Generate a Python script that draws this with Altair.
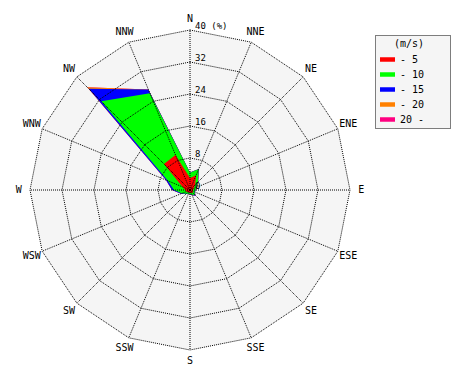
import altair as alt
import pandas as pd
import numpy as np

# ---- data ----
directions = ["N", "NNE", "NE", "ENE", "E", "ESE", "SE", "SSE",
              "S", "SSW", "SW", "WSW", "W", "WNW", "NW", "NNW"]
classes = ["- 5", "- 10", "- 15", "- 20", "20 -"]
class_colors = ["#ff0000", "#00ff00", "#0000ff", "#ff8000", "#ff0080"]

# frequency (%) of each speed class per direction
freq_0_5 = [3.0, 4.0, 1.8, 1.0, 0.8, 0.8, 1.0, 0.8, 0.7, 0.7, 0.8, 1.0, 1.2, 2.0, 9.2, 9.5]
freq_5_10 = [1.3, 1.6, 1.0, 0.8, 0.6, 0.4, 0.8, 0.5, 0.3, 0.3, 0.5, 1.2, 2.8, 4.0, 22.2, 16.7]
freq_10_15 = [0.1, 0.1, 0.1, 0.1, 0.1, 0.1, 0.2, 0.1, 0.1, 0.1, 0.1, 0.2, 0.5, 0.5, 4.4, 1.0]
freq_15_20 = [0.0, 0.0, 0.0, 0.0, 0.0, 0.0, 0.0, 0.0, 0.0, 0.0, 0.0, 0.0, 0.0, 0.0, 0.5, 0.0]
freq_20_up = [0.0, 0.0, 0.0, 0.0, 0.0, 0.0, 0.0, 0.0, 0.0, 0.0, 0.0, 0.0, 0.0, 0.0, 0.0, 0.0]

ring_levels = [8, 16, 24, 32, 40]
radial_values = [0, 8, 16, 24, 32, 40]
radial_labels = ["0", "8", "16", "24", "32", "40 (%)"]
r_max = 40
label_r = 42.8

MONO = "DejaVu Sans Mono"

# ---- tables ----
all_freqs = [freq_0_5, freq_5_10, freq_10_15, freq_15_20, freq_20_up]
cum = np.cumsum(np.array(all_freqs), axis=0)
rows = []
for k, cls in enumerate(classes):
    for i, d in enumerate(directions):
        rows.append({"cls": cls, "dir": d, "idx": i, "angle": i * 22.5, "r": float(cum[k, i])})
rose = pd.DataFrame(rows)

grid_rows = []
for lv in ring_levels:
    for i, d in enumerate(directions):
        grid_rows.append({"level": lv, "idx": i, "angle": i * 22.5, "r": lv})
grid = pd.DataFrame(grid_rows)

bg = pd.DataFrame({"idx": list(range(16)), "angle": [i * 22.5 for i in range(16)], "r": [r_max] * 16})
spokes = pd.DataFrame({"dir": directions, "angle": [i * 22.5 for i in range(16)], "r": [r_max] * 16})
dirlab = pd.DataFrame({"dir": directions, "angle": [i * 22.5 for i in range(16)], "r": [label_r] * 16})
radlab = pd.DataFrame({"v": radial_values, "lab": radial_labels})

xs = alt.Scale(domain=[-45.5, 45.5], nice=False, zero=False)
ys = alt.Scale(domain=[-45.5, 45.5], nice=False, zero=False)
calc_x = "datum.r * sin(datum.angle * PI / 180)"
calc_y = "datum.r * cos(datum.angle * PI / 180)"
X = alt.X("x:Q", scale=xs, axis=None)
Y = alt.Y("y:Q", scale=ys, axis=None)

background = alt.Chart(bg).transform_calculate(x=calc_x, y=calc_y).mark_line(
    interpolate="linear-closed", fill="#f5f5f5", strokeOpacity=0
).encode(x=X, y=Y, order=alt.Order("idx:Q"))

fill_scale = alt.Scale(domain=classes, range=class_colors)
legend = alt.Legend(
    title="(m/s)", orient="none", legendX=368, legendY=27,
    symbolType="M-1,-0.3H1V0.3H-1Z", symbolSize=225, symbolStrokeWidth=0,
    labelFont=MONO, labelFontSize=10, labelColor="black", labelOffset=5,
    titleFont=MONO, titleFontSize=10, titleFontWeight="normal", titleColor="black",
    titleAnchor="end", titlePadding=3, padding=4, rowPadding=2,
)

# dotted frame behind the legend
legend_frame = alt.Chart(pd.DataFrame({"k": [0]})).mark_rect(
    fill="#f5f5f5", stroke="black", strokeWidth=1, strokeDash=[1, 1]
).encode(x=alt.value(367.5), x2=alt.value(442.5), y=alt.value(27.5), y2=alt.value(120.5))

rose_layers = []
for cls in reversed(classes):
    rose_layers.append(
        alt.Chart(rose).transform_filter(alt.datum.cls == cls)
        .transform_calculate(x=calc_x, y=calc_y)
        .mark_line(interpolate="linear-closed", strokeOpacity=0)
        .encode(x=X, y=Y, order=alt.Order("idx:Q"),
                fill=alt.Fill("cls:N", scale=fill_scale, legend=legend))
    )

rings = alt.Chart(grid).transform_calculate(x=calc_x, y=calc_y).mark_line(
    interpolate="linear-closed", color="black", strokeWidth=1, strokeDash=[1, 1]
).encode(x=X, y=Y, detail="level:N", order=alt.Order("idx:Q"))

spoke_lines = alt.Chart(spokes).transform_calculate(
    x="0", y="0", x2=calc_x, y2=calc_y
).mark_rule(color="black", strokeWidth=1, strokeDash=[1, 1]).encode(
    x=X, y=Y, x2="x2:Q", y2="y2:Q"
)

dir_text = alt.Chart(dirlab).transform_calculate(x=calc_x, y=calc_y).mark_text(
    font=MONO, fontSize=10, color="black", align="center", baseline="middle"
).encode(x=X, y=Y, text="dir:N")

rad_text = alt.Chart(radlab).transform_calculate(x="0", y="datum.v").mark_text(
    font=MONO, fontSize=9, color="black", align="left", baseline="alphabetic", dx=5, dy=-1
).encode(x=X, y=Y, text="lab:N")

chart = alt.layer(background, legend_frame, *rose_layers, rings, spoke_lines, dir_text, rad_text).properties(
    width=364, height=364,
    autosize=alt.AutoSizeParams(type="none"),
    padding={"left": 0, "top": 0, "right": 90, "bottom": 8},
).configure_view(stroke=None)

chart.save("out.html", embed_options={"renderer": "svg", "actions": False})
